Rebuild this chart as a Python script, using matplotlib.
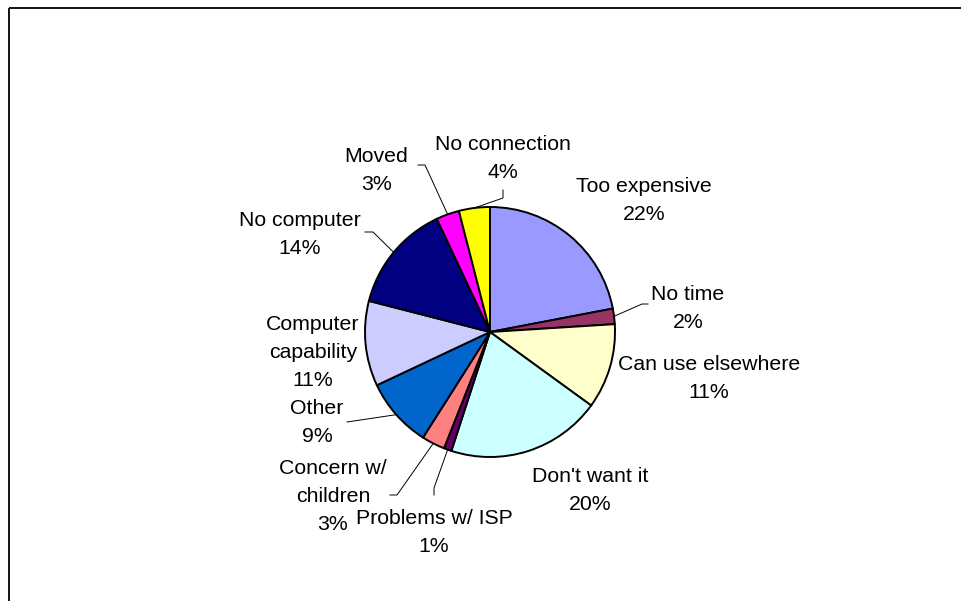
import numpy as np
import matplotlib.pyplot as plt
from matplotlib.patches import Rectangle

plt.rcParams['font.family'] = ['Liberation Sans', 'DejaVu Sans']

# Reasons for not having internet access at home (% of respondents)
reasons = ['Too expensive', 'No time', 'Can use elsewhere', "Don't want it",
           'Problems w/ ISP', 'Concern w/\nchildren', 'Other', 'Computer\ncapability',
           'No computer', 'Moved', 'No connection']
shares = [22, 2, 11, 20, 1, 3, 9, 11, 14, 3, 4]

# Excel-style palette, one colour per slice
colors = ['#9999FF', '#993366', '#FFFFCC', '#CCFFFF', '#660066', '#FF8080',
          '#0066CC', '#CCCCFF', '#000080', '#FF00FF', '#FFFF00']

# Layout in pixels from the top-left corner of the picture
W, H = 961, 601
pie_center = (490, 332)
pie_radius = 125
line_pitch = 28
label_pos = [(644, 201), (688, 308), (709, 379), (590, 491), (434, 532), (333, 496),
             (317, 422), (313, 353), (300, 234), (376, 170), (503, 158)]
# leader line points after the wedge edge (None = no leader)
leaders = [None, [(642, 304), (648, 304)], None, None, [(434, 488), (434, 495)],
           [(397, 495), (390, 495)], [(347, 422)], None, [(373, 232), (365, 232)],
           [(425, 165), (418, 165)], [(503, 198), (503, 190)]]

fig = plt.figure(figsize=(W / 100, H / 100), dpi=100)
ax = fig.add_axes([0, 0, 1, 1])

# y axis runs downwards, so counterclock=True draws clockwise on screen
wedges, _ = ax.pie(shares, colors=colors, startangle=-90, counterclock=True,
                   center=pie_center, radius=pie_radius,
                   wedgeprops=dict(edgecolor='black', linewidth=1.4))

ax.set_xlim(0, W)
ax.set_ylim(H, 0)
ax.set_aspect('equal')
ax.axis('off')

# Labels (one text per line) and leader lines
for w, reason, share, pos, lead in zip(wedges, reasons, shares, label_pos, leaders):
    lines = f'{reason}\n{share}%'.split('\n')
    n = len(lines)
    for i, line in enumerate(lines):
        ax.text(pos[0], pos[1] + (i - (n - 1) / 2) * line_pitch, line,
                ha='center', va='center', fontsize=15.3, color='black')
    if lead is not None:
        mid = np.deg2rad((w.theta1 + w.theta2) / 2)
        x0 = w.center[0] + w.r * np.cos(mid)
        y0 = w.center[1] + w.r * np.sin(mid)
        xs = [x0] + [p[0] for p in lead]
        ys = [y0] + [p[1] for p in lead]
        ax.plot(xs, ys, color='black', linewidth=0.7)

# Chart area border (runs off the right and bottom edges)
ax.add_patch(Rectangle((9, 8), 1000, 1000, fill=False, edgecolor='black', linewidth=1.3))

fig.savefig('out.png', dpi=100)
plt.close()
